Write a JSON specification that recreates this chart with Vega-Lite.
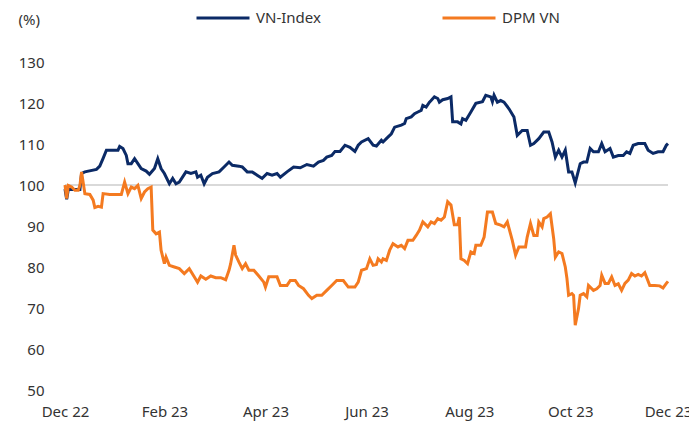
{
"$schema": "https://vega.github.io/schema/vega-lite/v6.json",
"width": 603, "height": 328,
"autosize": "none",
"padding": {"left": 65, "top": 62, "right": 21, "bottom": 32},
"background": "white",
"config": {"view": {"stroke": null}, "font": "Noto Sans"},
"datasets": {
"vn": [
{"date":"2022-12-30","value":99.0},{"date":"2022-12-31","value":96.5},{"date":"2023-01-01","value":98.9},{"date":"2023-01-08","value":98.9},{"date":"2023-01-09","value":102.8},{"date":"2023-01-11","value":103.2},{"date":"2023-01-18","value":103.8},{"date":"2023-01-20","value":104.6},{"date":"2023-01-22","value":106.5},{"date":"2023-01-24","value":108.5},{"date":"2023-01-31","value":108.5},{"date":"2023-02-01","value":109.4},{"date":"2023-02-03","value":108.9},{"date":"2023-02-05","value":107.2},{"date":"2023-02-06","value":105.2},{"date":"2023-02-08","value":105.2},{"date":"2023-02-10","value":106.4},{"date":"2023-02-12","value":105.2},{"date":"2023-02-14","value":104.0},{"date":"2023-02-17","value":103.4},{"date":"2023-02-19","value":102.6},{"date":"2023-02-22","value":104.0},{"date":"2023-02-24","value":106.4},{"date":"2023-02-26","value":104.0},{"date":"2023-02-28","value":102.8},{"date":"2023-03-03","value":100.3},{"date":"2023-03-05","value":101.6},{"date":"2023-03-07","value":100.3},{"date":"2023-03-09","value":100.7},{"date":"2023-03-13","value":103.2},{"date":"2023-03-16","value":102.8},{"date":"2023-03-19","value":103.2},{"date":"2023-03-20","value":101.9},{"date":"2023-03-22","value":102.4},{"date":"2023-03-24","value":100.3},{"date":"2023-03-26","value":101.9},{"date":"2023-03-29","value":102.8},{"date":"2023-04-02","value":103.2},{"date":"2023-04-05","value":104.4},{"date":"2023-04-08","value":105.6},{"date":"2023-04-10","value":104.8},{"date":"2023-04-14","value":104.6},{"date":"2023-04-16","value":104.4},{"date":"2023-04-19","value":103.2},{"date":"2023-04-22","value":103.2},{"date":"2023-04-25","value":102.4},{"date":"2023-04-28","value":101.6},{"date":"2023-05-01","value":102.8},{"date":"2023-05-04","value":102.4},{"date":"2023-05-07","value":102.8},{"date":"2023-05-09","value":101.9},{"date":"2023-05-13","value":103.2},{"date":"2023-05-17","value":104.4},{"date":"2023-05-21","value":104.2},{"date":"2023-05-25","value":105.0},{"date":"2023-05-29","value":104.6},{"date":"2023-06-01","value":105.6},{"date":"2023-06-04","value":106.0},{"date":"2023-06-06","value":106.8},{"date":"2023-06-09","value":107.2},{"date":"2023-06-11","value":108.2},{"date":"2023-06-14","value":108.2},{"date":"2023-06-17","value":109.7},{"date":"2023-06-20","value":109.2},{"date":"2023-06-23","value":108.2},{"date":"2023-06-25","value":109.7},{"date":"2023-06-27","value":110.5},{"date":"2023-07-01","value":111.3},{"date":"2023-07-04","value":109.7},{"date":"2023-07-06","value":109.5},{"date":"2023-07-09","value":110.9},{"date":"2023-07-10","value":110.5},{"date":"2023-07-12","value":111.3},{"date":"2023-07-15","value":112.5},{"date":"2023-07-17","value":114.1},{"date":"2023-07-21","value":114.6},{"date":"2023-07-23","value":115.0},{"date":"2023-07-24","value":116.2},{"date":"2023-07-27","value":116.6},{"date":"2023-07-29","value":117.4},{"date":"2023-07-31","value":117.8},{"date":"2023-08-02","value":118.2},{"date":"2023-08-03","value":119.4},{"date":"2023-08-05","value":119.0},{"date":"2023-08-07","value":120.2},{"date":"2023-08-08","value":120.6},{"date":"2023-08-10","value":121.5},{"date":"2023-08-12","value":121.1},{"date":"2023-08-13","value":120.2},{"date":"2023-08-15","value":120.8},{"date":"2023-08-18","value":121.1},{"date":"2023-08-20","value":121.5},{"date":"2023-08-21","value":115.4},{"date":"2023-08-24","value":115.4},{"date":"2023-08-26","value":114.9},{"date":"2023-08-27","value":116.2},{"date":"2023-08-29","value":115.8},{"date":"2023-09-01","value":117.8},{"date":"2023-09-04","value":119.9},{"date":"2023-09-08","value":120.3},{"date":"2023-09-10","value":121.9},{"date":"2023-09-13","value":121.5},{"date":"2023-09-14","value":120.3},{"date":"2023-09-15","value":121.9},{"date":"2023-09-17","value":120.2},{"date":"2023-09-19","value":120.6},{"date":"2023-09-21","value":120.2},{"date":"2023-09-24","value":118.6},{"date":"2023-09-27","value":116.6},{"date":"2023-09-29","value":112.1},{"date":"2023-10-02","value":113.3},{"date":"2023-10-05","value":113.3},{"date":"2023-10-07","value":109.7},{"date":"2023-10-09","value":110.1},{"date":"2023-10-12","value":111.3},{"date":"2023-10-15","value":112.9},{"date":"2023-10-18","value":112.9},{"date":"2023-10-20","value":110.5},{"date":"2023-10-22","value":106.8},{"date":"2023-10-24","value":108.5},{"date":"2023-10-26","value":106.8},{"date":"2023-10-28","value":108.5},{"date":"2023-10-30","value":103.2},{"date":"2023-11-01","value":103.2},{"date":"2023-11-03","value":100.5},{"date":"2023-11-06","value":105.2},{"date":"2023-11-08","value":105.6},{"date":"2023-11-10","value":105.6},{"date":"2023-11-12","value":108.9},{"date":"2023-11-14","value":108.1},{"date":"2023-11-17","value":108.1},{"date":"2023-11-19","value":110.1},{"date":"2023-11-21","value":108.1},{"date":"2023-11-24","value":108.9},{"date":"2023-11-26","value":106.8},{"date":"2023-11-29","value":107.2},{"date":"2023-12-02","value":107.2},{"date":"2023-12-04","value":108.1},{"date":"2023-12-06","value":107.7},{"date":"2023-12-08","value":109.7},{"date":"2023-12-11","value":110.1},{"date":"2023-12-15","value":110.1},{"date":"2023-12-17","value":108.5},{"date":"2023-12-20","value":107.7},{"date":"2023-12-23","value":108.1},{"date":"2023-12-26","value":108.1},{"date":"2023-12-28","value":109.7},{"date":"2023-12-29","value":110.1}
],
"dpm": [
{"date":"2022-12-30","value":100.0},{"date":"2022-12-31","value":96.7},{"date":"2023-01-01","value":99.9},{"date":"2023-01-03","value":99.5},{"date":"2023-01-05","value":98.7},{"date":"2023-01-07","value":98.7},{"date":"2023-01-08","value":99.9},{"date":"2023-01-09","value":103.2},{"date":"2023-01-11","value":97.9},{"date":"2023-01-14","value":97.7},{"date":"2023-01-16","value":96.3},{"date":"2023-01-17","value":94.5},{"date":"2023-01-19","value":94.8},{"date":"2023-01-21","value":94.6},{"date":"2023-01-22","value":97.9},{"date":"2023-01-26","value":97.7},{"date":"2023-02-02","value":97.7},{"date":"2023-02-04","value":100.7},{"date":"2023-02-06","value":97.9},{"date":"2023-02-08","value":99.5},{"date":"2023-02-10","value":99.1},{"date":"2023-02-12","value":99.9},{"date":"2023-02-14","value":96.7},{"date":"2023-02-16","value":98.3},{"date":"2023-02-18","value":99.1},{"date":"2023-02-20","value":99.5},{"date":"2023-02-21","value":89.0},{"date":"2023-02-23","value":88.1},{"date":"2023-02-25","value":88.5},{"date":"2023-02-26","value":84.1},{"date":"2023-02-28","value":80.8},{"date":"2023-03-01","value":82.4},{"date":"2023-03-03","value":80.4},{"date":"2023-03-06","value":80.0},{"date":"2023-03-09","value":79.6},{"date":"2023-03-12","value":78.4},{"date":"2023-03-15","value":79.6},{"date":"2023-03-18","value":77.6},{"date":"2023-03-20","value":76.3},{"date":"2023-03-22","value":77.8},{"date":"2023-03-25","value":77.0},{"date":"2023-03-28","value":77.8},{"date":"2023-03-31","value":77.4},{"date":"2023-04-03","value":77.4},{"date":"2023-04-06","value":76.9},{"date":"2023-04-08","value":79.2},{"date":"2023-04-09","value":80.8},{"date":"2023-04-11","value":85.3},{"date":"2023-04-12","value":82.9},{"date":"2023-04-14","value":81.2},{"date":"2023-04-16","value":79.6},{"date":"2023-04-18","value":80.8},{"date":"2023-04-20","value":79.2},{"date":"2023-04-23","value":79.2},{"date":"2023-04-26","value":77.8},{"date":"2023-04-29","value":76.3},{"date":"2023-04-30","value":75.1},{"date":"2023-05-02","value":77.6},{"date":"2023-05-07","value":77.6},{"date":"2023-05-09","value":75.5},{"date":"2023-05-13","value":75.5},{"date":"2023-05-15","value":76.7},{"date":"2023-05-18","value":76.7},{"date":"2023-05-20","value":75.5},{"date":"2023-05-23","value":74.7},{"date":"2023-05-26","value":73.1},{"date":"2023-05-28","value":72.3},{"date":"2023-05-31","value":73.1},{"date":"2023-06-03","value":73.1},{"date":"2023-06-06","value":74.3},{"date":"2023-06-09","value":75.5},{"date":"2023-06-12","value":76.7},{"date":"2023-06-16","value":76.7},{"date":"2023-06-19","value":75.1},{"date":"2023-06-23","value":75.1},{"date":"2023-06-25","value":76.3},{"date":"2023-06-27","value":79.2},{"date":"2023-06-30","value":79.6},{"date":"2023-07-02","value":82.0},{"date":"2023-07-04","value":80.4},{"date":"2023-07-06","value":80.6},{"date":"2023-07-07","value":82.0},{"date":"2023-07-09","value":81.2},{"date":"2023-07-10","value":82.0},{"date":"2023-07-12","value":81.6},{"date":"2023-07-14","value":84.1},{"date":"2023-07-16","value":85.7},{"date":"2023-07-19","value":84.9},{"date":"2023-07-21","value":85.3},{"date":"2023-07-23","value":84.5},{"date":"2023-07-25","value":86.5},{"date":"2023-07-28","value":86.5},{"date":"2023-07-30","value":87.7},{"date":"2023-08-01","value":89.0},{"date":"2023-08-03","value":91.0},{"date":"2023-08-05","value":90.2},{"date":"2023-08-06","value":89.8},{"date":"2023-08-08","value":91.0},{"date":"2023-08-10","value":90.6},{"date":"2023-08-12","value":91.8},{"date":"2023-08-14","value":91.4},{"date":"2023-08-16","value":92.2},{"date":"2023-08-18","value":95.9},{"date":"2023-08-20","value":95.1},{"date":"2023-08-22","value":90.3},{"date":"2023-08-24","value":90.3},{"date":"2023-08-25","value":92.2},{"date":"2023-08-26","value":82.0},{"date":"2023-08-28","value":81.6},{"date":"2023-08-30","value":80.8},{"date":"2023-09-01","value":83.7},{"date":"2023-09-03","value":83.3},{"date":"2023-09-04","value":85.3},{"date":"2023-09-07","value":85.3},{"date":"2023-09-09","value":87.3},{"date":"2023-09-11","value":93.4},{"date":"2023-09-14","value":93.4},{"date":"2023-09-16","value":90.6},{"date":"2023-09-19","value":90.2},{"date":"2023-09-21","value":89.8},{"date":"2023-09-23","value":91.0},{"date":"2023-09-26","value":86.5},{"date":"2023-09-28","value":82.9},{"date":"2023-09-30","value":84.9},{"date":"2023-10-02","value":84.9},{"date":"2023-10-04","value":84.9},{"date":"2023-10-05","value":87.3},{"date":"2023-10-07","value":90.6},{"date":"2023-10-09","value":87.7},{"date":"2023-10-11","value":87.7},{"date":"2023-10-12","value":91.0},{"date":"2023-10-14","value":89.8},{"date":"2023-10-15","value":91.8},{"date":"2023-10-17","value":92.2},{"date":"2023-10-19","value":93.0},{"date":"2023-10-21","value":86.9},{"date":"2023-10-22","value":82.4},{"date":"2023-10-24","value":83.7},{"date":"2023-10-26","value":83.3},{"date":"2023-10-28","value":80.0},{"date":"2023-10-29","value":77.2},{"date":"2023-10-30","value":73.1},{"date":"2023-11-01","value":73.5},{"date":"2023-11-02","value":73.1},{"date":"2023-11-03","value":65.8},{"date":"2023-11-05","value":69.9},{"date":"2023-11-06","value":73.1},{"date":"2023-11-08","value":73.5},{"date":"2023-11-10","value":72.7},{"date":"2023-11-11","value":75.5},{"date":"2023-11-14","value":74.3},{"date":"2023-11-16","value":74.7},{"date":"2023-11-18","value":75.5},{"date":"2023-11-19","value":78.0},{"date":"2023-11-21","value":76.0},{"date":"2023-11-23","value":76.0},{"date":"2023-11-25","value":77.6},{"date":"2023-11-27","value":75.5},{"date":"2023-11-29","value":75.9},{"date":"2023-12-01","value":74.3},{"date":"2023-12-03","value":76.0},{"date":"2023-12-05","value":76.8},{"date":"2023-12-07","value":78.4},{"date":"2023-12-09","value":77.8},{"date":"2023-12-11","value":78.2},{"date":"2023-12-13","value":77.8},{"date":"2023-12-15","value":78.6},{"date":"2023-12-18","value":75.5},{"date":"2023-12-21","value":75.5},{"date":"2023-12-24","value":75.4},{"date":"2023-12-26","value":74.9},{"date":"2023-12-28","value":76.0},{"date":"2023-12-29","value":76.5}
],
"base": [{"value": 100}]
},
"layer": [
{
"data": {"name": "base"},
"mark": {"type": "rule", "color": "#d9d9d9", "strokeWidth": 2},
"encoding": {"y": {"field": "value", "type": "quantitative", "scale": {"domain": [50, 130], "nice": false, "zero": false}, "axis": {"title": "(%)", "titleAngle": 0, "titleX": -47, "titleY": -43, "titleAlign": "left", "titleBaseline": "middle", "titleFontWeight": "normal", "titleFontSize": 15, "titleColor": "#333333", "grid": false, "domain": false, "ticks": false, "tickSize": 0, "labelPadding": 21, "labelFontSize": 15, "labelColor": "#333333", "values": [50, 60, 70, 80, 90, 100, 110, 120, 130]}}}
},
{
"data": {"name": "vn"},
"transform": [{"calculate": "'VN-Index'", "as": "series"}],
"mark": {"type": "line", "strokeWidth": 3},
"encoding": {
"x": {"field": "date", "type": "temporal",
"scale": {"type": "utc", "domain": [{"year": 2022, "month": 12, "date": 30, "utc": true}, {"year": 2023, "month": 12, "date": 29, "utc": true}]},
"axis": {"title": null, "grid": false, "domain": false, "ticks": false, "tickSize": 0, "labelPadding": 14, "labelFontSize": 15, "labelColor": "#333333", "labelFlush": false, "labelOverlap": false, "labelExpr": "utcFormat(datum.value, '%b %y')",
"values": [{"year": 2022, "month": 12, "date": 30, "utc": true}, {"year": 2023, "month": 2, "date": 28, "utc": true}, {"year": 2023, "month": 4, "date": 30, "utc": true}, {"year": 2023, "month": 6, "date": 30, "utc": true}, {"year": 2023, "month": 8, "date": 31, "utc": true}, {"year": 2023, "month": 10, "date": 31, "utc": true}, {"year": 2023, "month": 12, "date": 29, "utc": true}]}},
"y": {"field": "value", "type": "quantitative"},
"color": {"field": "series", "type": "nominal",
"scale": {"domain": ["VN-Index", "DPM VN"], "range": ["#0b2a66", "#f47a20"]},
"legend": {"title": null, "orient": "none", "legendX": 130, "legendY": -72, "direction": "horizontal", "padding": 0, "symbolType": "stroke", "symbolSize": 2809, "symbolStrokeWidth": 3, "labelFontSize": 15, "labelColor": "#333333", "labelOffset": 5, "columnPadding": 115}}
}
},
{
"data": {"name": "dpm"},
"transform": [{"calculate": "'DPM VN'", "as": "series"}],
"mark": {"type": "line", "strokeWidth": 3},
"encoding": {
"x": {"field": "date", "type": "temporal"},
"y": {"field": "value", "type": "quantitative"},
"color": {"field": "series", "type": "nominal"}
}
}
]
}
